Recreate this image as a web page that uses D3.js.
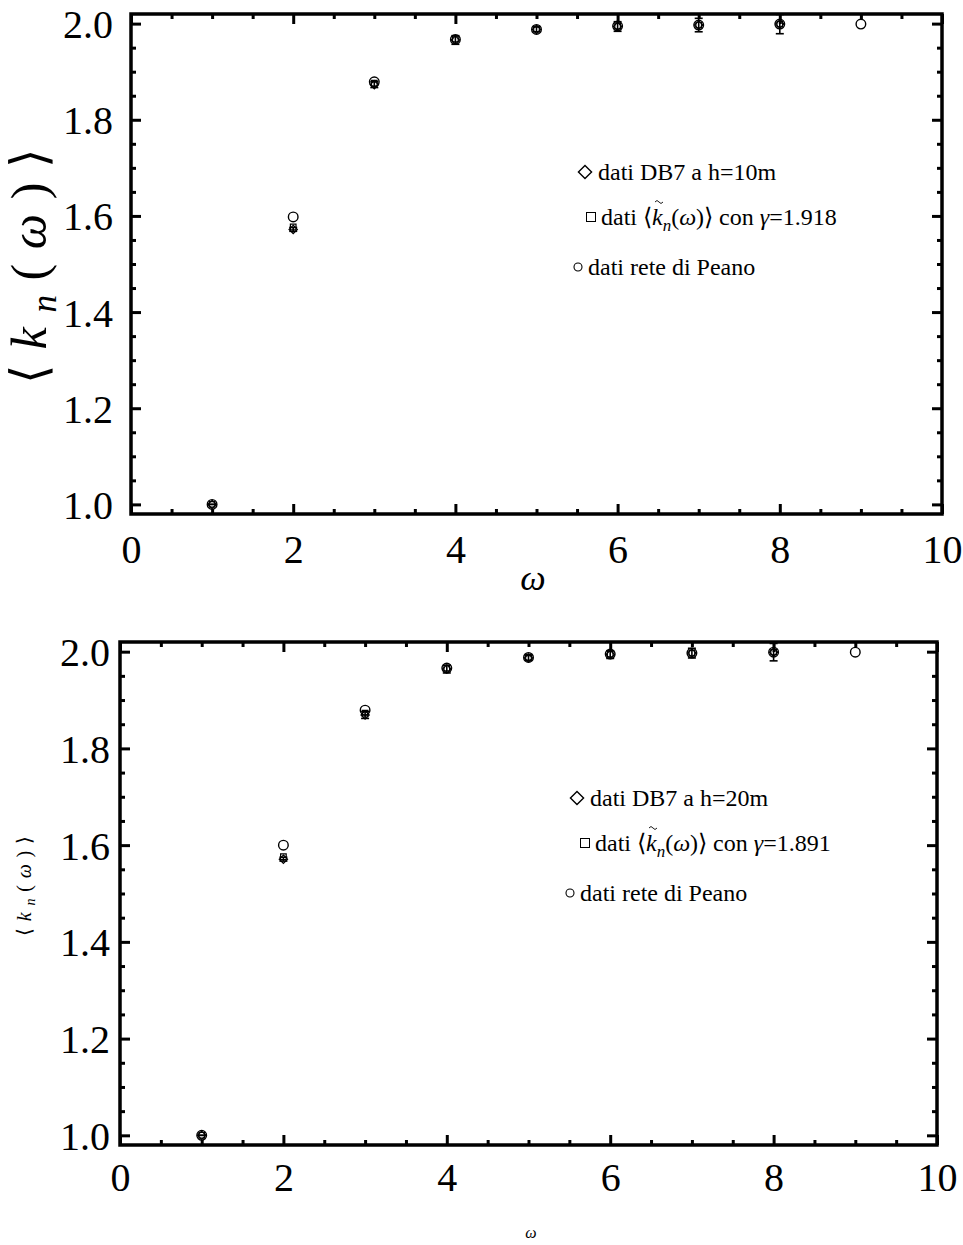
<!DOCTYPE html>
<html>
<head>
<meta charset="utf-8">
<script src="https://cdn.jsdelivr.net/npm/d3@7"></script>
<style>
  body { margin: 0; background: #fff; }
  svg { display: block; font-family: "Liberation Serif", "DejaVu Serif", serif; }
  .tick line { stroke: #000; stroke-width: 3; }
</style>
</head>
<body>
<svg width="963" height="1245"></svg>
<script>
var svg = d3.select("svg");

// data
var omega = [1, 2, 3, 4, 5, 6, 7, 8, 9];
var omegaDB = [1, 2, 3, 4, 5, 6, 7, 8];

// h = 10m
var db7_10   = [1.000, 1.572, 1.873, 1.966, 1.988, 1.994, 1.997, 1.999];
var err_10   = [0.000, 0.004, 0.006, 0.009, 0.005, 0.010, 0.014, 0.020];
var model_10 = [1.000, 1.577, 1.876, 1.968, 1.989, 1.995, 1.997, 1.999];
var peano_10 = [1.000, 1.598, 1.879, 1.967, 1.988, 1.995, 1.997, 1.999, 1.999];

// h = 20m
var db7_20   = [1.000, 1.571, 1.869, 1.964, 1.987, 1.994, 1.997, 1.999];
var err_20   = [0.000, 0.004, 0.007, 0.008, 0.005, 0.008, 0.010, 0.018];
var model_20 = [1.000, 1.576, 1.873, 1.966, 1.988, 1.995, 1.997, 1.999];
var peano_20 = [1.000, 1.600, 1.879, 1.966, 1.988, 1.995, 1.997, 1.999, 1.999];

var xMajor = [0, 2, 4, 6, 8, 10];
var yMajor = [1.0, 1.2, 1.4, 1.6, 1.8, 2.0];

var panels = [
  {left: 131, right: 942, top: 14, bottom: 514, db: db7_10, err: err_10, model: model_10, peano: peano_10,
   gamma: "1.918", h: "10m", tickFont: 40, xLab: {y: 563}, yLabGap: 18,
   titleX: {x: 533, y: 590, size: 36}, titleY: {x: 46, y: 266, size: 50, len: 236},
   legend: {x: 585, y: 172, x2: 591, y2: 217, x3: 578, y3: 267}},
  {left: 120, right: 937, top: 642, bottom: 1145, db: db7_20, err: err_20, model: model_20, peano: peano_20,
   gamma: "1.891", h: "20m", tickFont: 40, xLab: {y: 1191}, yLabGap: 10,
   titleX: {x: 531, y: 1238, size: 16}, titleY: {x: 31, y: 886, size: 20, len: 100},
   legend: {x: 577, y: 798, x2: 585, y2: 843, x3: 570, y3: 893}}
];

panels.forEach(function(p, i) {
  var x = d3.scaleLinear().domain([0, 10]).range([p.left, p.right]);
  var y = d3.scaleLinear().domain([0.98, 2.02]).range([p.bottom, p.top]);

  var g = svg.append("g");

  var xMinor = d3.range(0, 10.01, 0.5).filter(function(d) { return d % 2 !== 0; });
  var yMinor = d3.range(1.0, 2.001, 0.05).filter(function(d) { return Math.abs(Math.round(d * 5) - d * 5) > 1e-6; });

  // minor ticks, all four sides pointing in
  g.append("g").attr("transform", "translate(0," + p.bottom + ")")
    .call(d3.axisBottom(x).tickValues(xMinor).tickSize(-5).tickFormat(""));
  g.append("g").attr("transform", "translate(0," + p.top + ")")
    .call(d3.axisTop(x).tickValues(xMinor).tickSize(-5).tickFormat(""));
  g.append("g").attr("transform", "translate(" + p.left + ",0)")
    .call(d3.axisLeft(y).tickValues(yMinor).tickSize(-5).tickFormat(""));
  g.append("g").attr("transform", "translate(" + p.right + ",0)")
    .call(d3.axisRight(y).tickValues(yMinor).tickSize(-5).tickFormat(""));

  // major ticks
  var xb = g.append("g").attr("transform", "translate(0," + p.bottom + ")")
    .call(d3.axisBottom(x).tickValues(xMajor).tickSize(-10).tickPadding(0).tickFormat(d3.format("d")));
  g.append("g").attr("transform", "translate(0," + p.top + ")")
    .call(d3.axisTop(x).tickValues(xMajor).tickSize(-10).tickFormat(""));
  var yl = g.append("g").attr("transform", "translate(" + p.left + ",0)")
    .call(d3.axisLeft(y).tickValues(yMajor).tickSize(-10).tickFormat(d3.format(".1f")));
  g.append("g").attr("transform", "translate(" + p.right + ",0)")
    .call(d3.axisRight(y).tickValues(yMajor).tickSize(-10).tickFormat(""));

  // frame replaces the axis domain paths
  g.selectAll(".domain").remove();
  g.append("rect")
    .attr("x", p.left).attr("y", p.top)
    .attr("width", p.right - p.left).attr("height", p.bottom - p.top)
    .attr("fill", "none").attr("stroke", "#000").attr("stroke-width", 3.5);

  xb.selectAll(".tick text")
    .attr("font-family", "Liberation Serif").attr("font-size", p.tickFont).attr("fill", "#000")
    .attr("dy", null).attr("y", p.xLab.y - p.bottom);
  yl.selectAll(".tick text")
    .attr("font-family", "Liberation Serif").attr("font-size", p.tickFont).attr("fill", "#000")
    .attr("x", -p.yLabGap).attr("dy", "0.35em");

  // clip for error bars
  svg.append("clipPath").attr("id", "clip" + i).append("rect")
    .attr("x", p.left).attr("y", p.top)
    .attr("width", p.right - p.left).attr("height", p.bottom - p.top);

  var marks = g.append("g").attr("clip-path", "url(#clip" + i + ")")
    .attr("fill", "none").attr("stroke", "#000").attr("stroke-width", 1.2);

  // error bars on DB7 data
  var eb = marks.selectAll(".err").data(omegaDB).enter().append("g");
  eb.append("line")
    .attr("x1", function(d) { return x(d); }).attr("x2", function(d) { return x(d); })
    .attr("y1", function(d, j) { return y(p.db[j] - p.err[j]); })
    .attr("y2", function(d, j) { return y(p.db[j] + p.err[j]); })
    .attr("stroke-width", 1.6);
  eb.append("line")
    .attr("x1", function(d) { return x(d) - 4; }).attr("x2", function(d) { return x(d) + 4; })
    .attr("y1", function(d, j) { return y(p.db[j] + p.err[j]); })
    .attr("y2", function(d, j) { return y(p.db[j] + p.err[j]); })
    .attr("stroke-width", 1.6);
  eb.append("line")
    .attr("x1", function(d) { return x(d) - 4; }).attr("x2", function(d) { return x(d) + 4; })
    .attr("y1", function(d, j) { return y(p.db[j] - p.err[j]); })
    .attr("y2", function(d, j) { return y(p.db[j] - p.err[j]); })
    .attr("stroke-width", 1.6);

  var diamond = d3.symbol().type(d3.symbolDiamond2).size(44);
  var square = d3.symbol().type(d3.symbolSquare2).size(40);

  marks.selectAll(".dia").data(omegaDB).enter().append("path")
    .attr("d", diamond)
    .attr("transform", function(d, j) { return "translate(" + x(d) + "," + y(p.db[j]) + ")"; });
  marks.selectAll(".sq").data(omegaDB).enter().append("path")
    .attr("d", square)
    .attr("transform", function(d, j) { return "translate(" + x(d) + "," + y(p.model[j]) + ")"; });
  marks.selectAll(".circ").data(omega).enter().append("circle")
    .attr("cx", function(d) { return x(d); })
    .attr("cy", function(d, j) { return y(p.peano[j]); })
    .attr("r", 4.8).attr("stroke-width", 1.4);

  // legend
  var lg = g.append("g").attr("font-family", "Liberation Serif").attr("font-size", 24);
  lg.append("path").attr("d", d3.symbol().type(d3.symbolDiamond2).size(110))
    .attr("transform", "translate(" + p.legend.x + "," + p.legend.y + ")")
    .attr("fill", "none").attr("stroke", "#000").attr("stroke-width", 1.4);
  lg.append("text").attr("x", p.legend.x + 13).attr("y", p.legend.y + 8)
    .text("dati DB7 a h=" + p.h);

  lg.append("rect").attr("x", p.legend.x2 - 4.5).attr("y", p.legend.y2 - 4.5)
    .attr("width", 9).attr("height", 9)
    .attr("fill", "none").attr("stroke", "#000").attr("stroke-width", 1);
  var t2 = lg.append("text").attr("x", p.legend.x2 + 10).attr("y", p.legend.y2 + 8);
  t2.append("tspan").text("dati \u27E8");
  t2.append("tspan").attr("font-style", "italic").text("k");
  t2.append("tspan").attr("font-style", "italic").attr("font-size", 17).attr("dy", 6).text("n");
  t2.append("tspan").attr("dy", -6).text("(");
  t2.append("tspan").attr("font-style", "italic").text("\u03C9");
  t2.append("tspan").text(")\u27E9 con ");
  t2.append("tspan").attr("font-style", "italic").text("\u03B3");
  t2.append("tspan").text("=" + p.gamma);
  // tilde over the k, drawn as a small wave
  var tx = t2.node().getStartPositionOfChar(6).x + 7,
      tyy = p.legend.y2 - 16;
  lg.append("path")
    .attr("d", "M" + (tx - 4) + "," + (tyy + 1) + " q2,-3 4,0 t4,0")
    .attr("fill", "none").attr("stroke", "#000").attr("stroke-width", 0.9);

  lg.append("circle").attr("cx", p.legend.x3).attr("cy", p.legend.y3).attr("r", 4)
    .attr("fill", "none").attr("stroke", "#000").attr("stroke-width", 1.1);
  lg.append("text").attr("x", p.legend.x3 + 10).attr("y", p.legend.y3 + 8)
    .text("dati rete di Peano");

  // axis titles
  g.append("text").attr("x", p.titleX.x).attr("y", p.titleX.y)
    .attr("text-anchor", "middle").attr("font-family", "Liberation Serif")
    .attr("font-style", "italic").attr("font-size", p.titleX.size).text("\u03C9");

  var s = p.titleY.size;
  var ty = g.append("text")
    .attr("transform", "translate(" + p.titleY.x + "," + p.titleY.y + ") rotate(-90)")
    .attr("text-anchor", "middle").attr("font-family", "Liberation Serif").attr("font-size", s)
    .attr("textLength", p.titleY.len).attr("lengthAdjust", "spacing");
  ty.append("tspan").text("\u27E8");
  ty.append("tspan").attr("font-style", "italic").text("k");
  ty.append("tspan").attr("font-style", "italic").attr("font-size", s * 0.7).attr("dy", s * 0.2).text("n");
  ty.append("tspan").attr("dy", -s * 0.2).text("(");
  ty.append("tspan").attr("font-style", "italic").text("\u03C9");
  ty.append("tspan").text(")\u27E9");
});
</script>
</body>
</html>
